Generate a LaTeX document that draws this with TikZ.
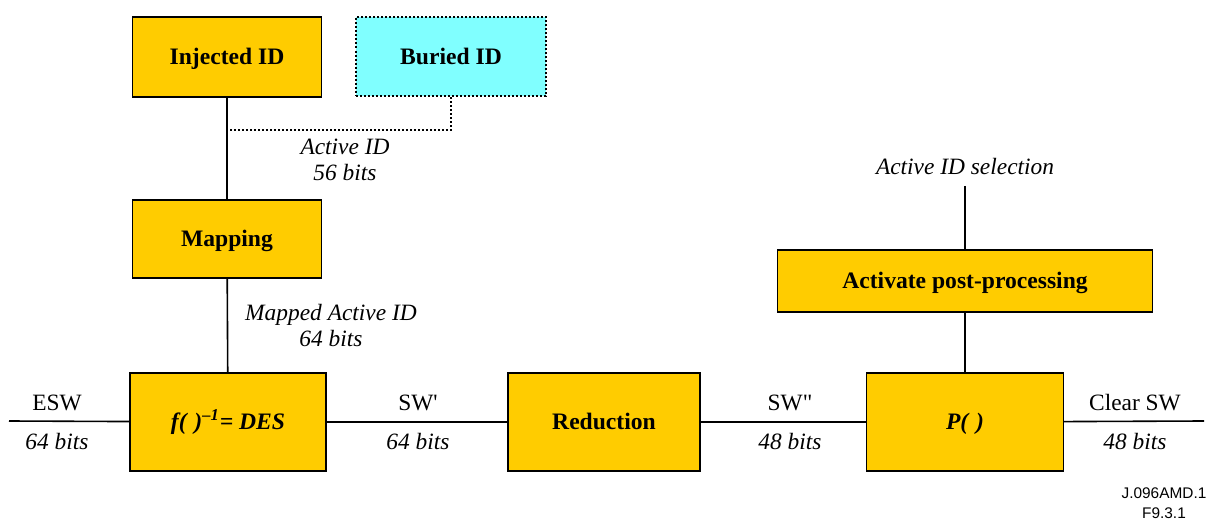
\documentclass[tikz,border=0pt]{standalone}
\usepackage{fontspec}
\setmainfont{Liberation Serif}
\setsansfont{Liberation Sans}
\usepackage{tikz}
\usetikzlibrary{positioning}

\definecolor{gold}{HTML}{FFCC00}
\definecolor{aqua}{HTML}{80FFFF}
\newcommand{\squote}{\XeTeXglyph\XeTeXcharglyph"0027\relax}
\newcommand{\dquote}{\XeTeXglyph\XeTeXcharglyph"0022\relax}

\begin{document}
\begin{tikzpicture}[
			x=0.5pt,y=-0.5pt,
			blk/.style={draw,line width=0.6pt,fill=gold,inner sep=0pt,text height=0.9em,text depth=0.15em,font=\fontsize{11.8}{13}\selectfont\bfseries},
			lbl/.style={align=center,font=\fontsize{11.7}{13}\selectfont\itshape},
			up/.style={align=center,font=\fontsize{11.7}{13}\selectfont},
			wire/.style={line width=0.8pt},
			dots/.style={line width=1pt,dash pattern=on 1pt off 1pt}
			]

			\useasboundingbox (0,0) rectangle (1211,519);

			% blocks
			\node[blk,minimum width=94.5pt,minimum height=40pt] (inj) at (227,57) {Injected ID};
			\node[blk,fill=aqua,dots,minimum width=95pt,minimum height=39.5pt] (bur) at (451,57) {Buried ID};
			\node[blk,minimum width=94.5pt,minimum height=39pt] (map) at (227,239) {Mapping};
			\node[blk,minimum width=98pt,minimum height=49pt] (fdes) at (228,422) {\itshape f(\,\,)\textsuperscript{--1}= DES};
			\node[blk,minimum width=96pt,minimum height=49pt] (red) at (604,422) {Reduction};
			\node[blk,minimum width=98.5pt,minimum height=49pt] (pp) at (965,422) {\itshape P(\,\,)};
			\node[blk,minimum width=187.5pt,minimum height=31pt] (act) at (965,281) {Activate post-processing};

			% free ends
			\coordinate (jn) at (228,130);
			\coordinate (in) at (9,421);
			\coordinate (out) at (1204,421);
			\coordinate (sel) at (965,186);

			% connectors
			\draw[wire] (inj) -- (map);
			\draw[wire] (map) -- (fdes);
			\draw[dots] (bur.south) |- (jn);
			\draw[wire] (in) -- (fdes);
			\draw[wire] (fdes) -- (red);
			\draw[wire] (red) -- (pp);
			\draw[wire] (pp) -- (out);
			\draw[wire] (sel) -- (act);
			\draw[wire] (act) -- (pp);

			% labels
			\node[lbl] (actid) at (345,160) {Active ID\\56 bits};
			\node[lbl] (mapid) at (331,325) {Mapped Active ID\\64 bits};
			\node[lbl] (selid) at (965,166) {Active ID selection};
			\node[up] (esw) at (57,403) {ESW};
			\node[lbl] (eswb) at (57,441) {64 bits};
			\node[up] (swa) at (418,403) {SW\squote};
			\node[lbl] (swab) at (418,441) {64 bits};
			\node[up] (swb) at (790,403) {SW\dquote};
			\node[lbl] (swbb) at (790,441) {48 bits};
			\node[up] (clr) at (1135,403) {Clear SW};
			\node[lbl] (clrb) at (1135,441) {48 bits};
			\node[align=center,font=\fontsize{7.7}{10}\selectfont\sffamily] (ref) at (1164,503) {J.096AMD.1\\F9.3.1};

			\end{tikzpicture}
\end{document}
